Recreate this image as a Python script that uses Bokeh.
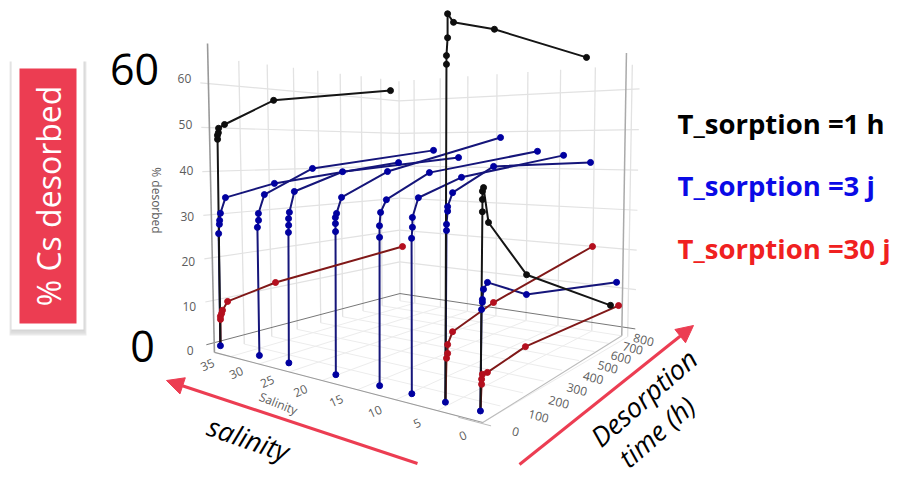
import numpy as np
from bokeh.plotting import figure
from bokeh.models import Range1d, Arrow, NormalHead
from bokeh.core.properties import value
from bokeh.embed import file_html
from bokeh.resources import INLINE

# ---- data: salinity, desorption time (h), % desorbed
BLACK_SAL = [36.3, 3.8, 0]
BLACK_T = [[0,5,5,8,9,28,197,715], [0,4,4,8,8,29,189,684], [0,5,5,5,9,28,188,673]]
BLACK_V = [[0,47.3,48.2,48.8,49.8,50.7,57.0,62.4],
           [0,59.8,61.3,64.4,68.5,67.3,68.0,67.2],
           [0,34.5,36.6,38.0,38.6,32.5,21.4,7.9]]
RED_SAL = [36.3, 3.8, 0]
RED_T = [[0,2,2,6,9,26,193,777], [0,4,8,8,26,190,743], [0,4,4,7,26,185,733]]
RED_V = [[0,6.1,6.8,7.4,8.1,9.9,12.1,15.4],
         [0,7.9,8.7,10.3,12.3,15.1,20.8],
         [0,4.6,5.5,6.3,6.2,7.6,6.9]]
BLUE_SAL = [36.3, 29.4, 24.6, 17.6, 11.7, 7.7, 3.8, 0]
BLUE_T = [[0,2,5,6,9,26,195,757],
          [0,1,5,5,25,193,751],
          [0,5,6,6,9,26,196,741],
          [0,4,4,4,8,25,191,742],
          [0,3,3,7,27,187,736],
          [0,1,4,4,25,190,728],
          [0,4,4,8,8,26,188,721],
          [0,3,6,6,10,25,188,715]]
BLUE_V = [[0,25.9,28.0,28.9,30.5,34.0,36.7,41.1],
          [0,28.2,29.7,31.2,35.2,40.6,44.8],
          [0,27.7,29.2,30.6,31.9,36.2,40.0,42.8],
          [0,28.8,30.4,31.6,32.4,35.5,40.3,48.3],
          [0,28.5,30.7,33.2,35.5,40.3,44.6],
          [0,28.9,30.9,32.7,36.2,39.5,43.6],
          [0,30.8,31.9,34.2,35.0,37.4,41.8,41.9],
          [0,17.7,18.9,19.4,21.1,22.1,17.6,12.9]]
SAL_TICKS = [35,30,25,20,15,10,5,0]
TIME_TICKS = [0,100,200,300,400,500,600,700,800]
PCT_TICKS = [0,10,20,30,40,50,60]
LEGEND = ["T_sorption =1 h", "T_sorption =3 j", "T_sorption =30 j"]

# ---- camera of the 3D view: box corners on the page
CAL = [((38,0,0),(214,343)),((0,0,0),(480,410)),((38,800,0),(400,293)),((0,800,0),(628,326)),
       ((38,0,60),(209,80)),((38,800,60),(397,102)),((0,800,60),(632,88)),((0,0,60),(484,62))]
A=[];b=[]
for (s,t,v),(x,y) in CAL:
    A.append([s,t,v,1,0,0,0,0,-x*s,-x*t,-x*v]);b.append(x)
    A.append([0,0,0,0,s,t,v,1,-y*s,-y*t,-y*v]);b.append(y)
h=np.linalg.lstsq(np.array(A,float),np.array(b,float),rcond=None)[0]
M=np.array(list(h)+[1.0]).reshape(3,4)
def proj(s,t,v):
    P=M@np.array([s,t,v,1.0]); return P[0]/P[2],P[1]/P[2]
T0=-9   # first measurement lies just off the wall
def curve(s,ts,vs):
    pts=[proj(s,t+T0,v) for t,v in zip(ts,vs)]
    return [q[0] for q in pts],[q[1] for q in pts]

p=figure(width=897,height=477,x_range=Range1d(0,897),y_range=Range1d(477,0),
         x_axis_type=None,y_axis_type=None,toolbar_location=None,output_backend="svg",
         min_border=0,outline_line_color=None)
p.grid.visible=False
p.background_fill_color="white"; p.border_fill_color="white"

def seg(a,b,color,w=1.0):
    x0,y0=proj(*a);x1,y1=proj(*b)
    p.line([x0,x1],[y0,y1],line_color=color,line_width=w)

VF,VT=-2.3,69.0
SE=0.8
GRID="#e2e2e2"; FLOOR="#ececec"
for s in SAL_TICKS:
    seg((s,0,VF),(s,800,VF),FLOOR)
    seg((s,800,VF),(s,800,VT-3),GRID,1.3)
for t in TIME_TICKS:
    seg((SE,t,VF),(38,t,VF),FLOOR)
    if t>0: seg((38,t,VF),(38,t,VT-3),GRID,1.3)
for v in PCT_TICKS[1:]:
    seg((38,-25,v),(38,800,v),GRID,1.2)
    seg((38,800,v),(-1,800,v),GRID,1.2)
seg((38,-25,0),(38,800,0),"#777777")
seg((38,800,0),(-1,800,0),"#777777")
seg((38,0,VF),(38,0,VT),"#999999",1.6)
seg((SE,800,VF),(SE,800,VT),"#aaaaaa",1.5)
seg((38,0,VF),(0,0,VF),"#999999",1.1)
seg((0,0,VF),(SE,800,VF),"#bbbbbb",1.1)
seg((-1,-5,VF),(2.5,-5,VF),"#bbbbbb",1.0)

# tick labels
tkw=dict(text_align="center",text_baseline="middle",text_color="#5c5c5c",
         text_font=value("Open Sans"),text_font_size="12px")
for v in PCT_TICKS:
    x,y=proj(38,0,v)
    p.text([x-24],[y+8-13*v/60],text=[str(v)],**tkw)
for s in SAL_TICKS:
    x,y=proj(s,0,VF)
    p.text([x-20-3*s/35],[y+13-5*s/35],text=[str(s)],angle=0.42,**tkw)
for t in TIME_TICKS:
    x,y=proj(0,t,VF)
    p.text([x+33-17*t/800],[y+9-6*t/800],text=[str(t)],angle=-0.25,**tkw)
p.text([278],[403],text=["Salinity"],angle=-0.38,**tkw)
p.text([156],[200],text=["% desorbed"],angle=-np.pi/2,**tkw)

# series
BL="#15157a"; BM="#0000a0"; KL="#151515"; KM="#0d0d0d"; RL="#801818"; RM="#b40f1e"
for s,ts,vs in zip(BLUE_SAL,BLUE_T,BLUE_V):
    x,y=curve(s,ts,vs); p.line(x,y,line_color=BL,line_width=2)
for s,ts,vs in zip(RED_SAL,RED_T,RED_V):
    x,y=curve(s,ts,vs); p.line(x,y,line_color=RL,line_width=2)
for s,ts,vs in zip(BLACK_SAL,BLACK_T,BLACK_V):
    x,y=curve(s,ts,vs); p.line(x,y,line_color=KL,line_width=2)
for s,ts,vs in zip(BLACK_SAL,BLACK_T,BLACK_V):
    x,y=curve(s,ts,vs); p.scatter(x[1:],y[1:],size=6,color=KM)
for s,ts,vs in zip(RED_SAL,RED_T,RED_V):
    x,y=curve(s,ts,vs); p.scatter(x[1:],y[1:],size=6,color=RM)
for s,ts,vs in zip(BLUE_SAL,BLUE_T,BLUE_V):
    x,y=curve(s,ts,vs); p.scatter(x,y,size=6,color=BM)

# slide annotations
RED="#ec3d52"
for i,a in enumerate([.05,.08,.12]):
    p.quad(left=[11-i],right=[83+i+1],top=[61],bottom=[331+i*2],color="#555555",alpha=a,line_alpha=0)
p.quad(left=[11],right=[83],top=[60],bottom=[329],color="white",line_alpha=0)
p.quad(left=[19],right=[76],top=[68],bottom=[323],color=RED,line_alpha=0)
p.text([47.5],[195.5],text=["% Cs desorbed"],angle=np.pi/2,text_align="center",text_baseline="middle",
       text_color="white",text_font=value("Open Sans"),text_font_size="32px")
big=dict(text_align="center",text_baseline="middle",text_color="black",
         text_font=value("Open Sans"),text_font_size="43px")
p.text([134],[69],text=["60"],**big)
p.text([142],[346],text=["0"],**big)
for txt,y,c in zip(LEGEND,[123,185,248],["#000000","#0a0ae6","#f02020"]):
    p.text([677],[y],text=[txt],text_align="left",text_baseline="middle",text_color=c,
           text_font=value("Open Sans"),text_font_style="bold",text_font_size="27.5px")
for (x0,y0,x1,y1) in [(417,463,166,380),(519,464,693,325)]:
    p.add_layout(Arrow(end=NormalHead(size=17,fill_color=RED,line_color=RED),
                       x_start=x0,y_start=y0,x_end=x1,y_end=y1,line_color=RED,line_width=3))
ann=dict(text_align="center",text_baseline="middle",text_color="black",
         text_font=value("Open Sans"),text_font_size="27px")
p.text([248],[438],text=["salinity"],angle=-0.33,text_font_style="italic",**ann)
p.text([643],[397],text=["Desorption"],angle=0.72,text_font_style="italic",**ann)
p.text([656],[431],text=["time (h)"],angle=0.72,text_font_style="italic",**ann)

open("out.html","w").write(file_html(p,INLINE))
